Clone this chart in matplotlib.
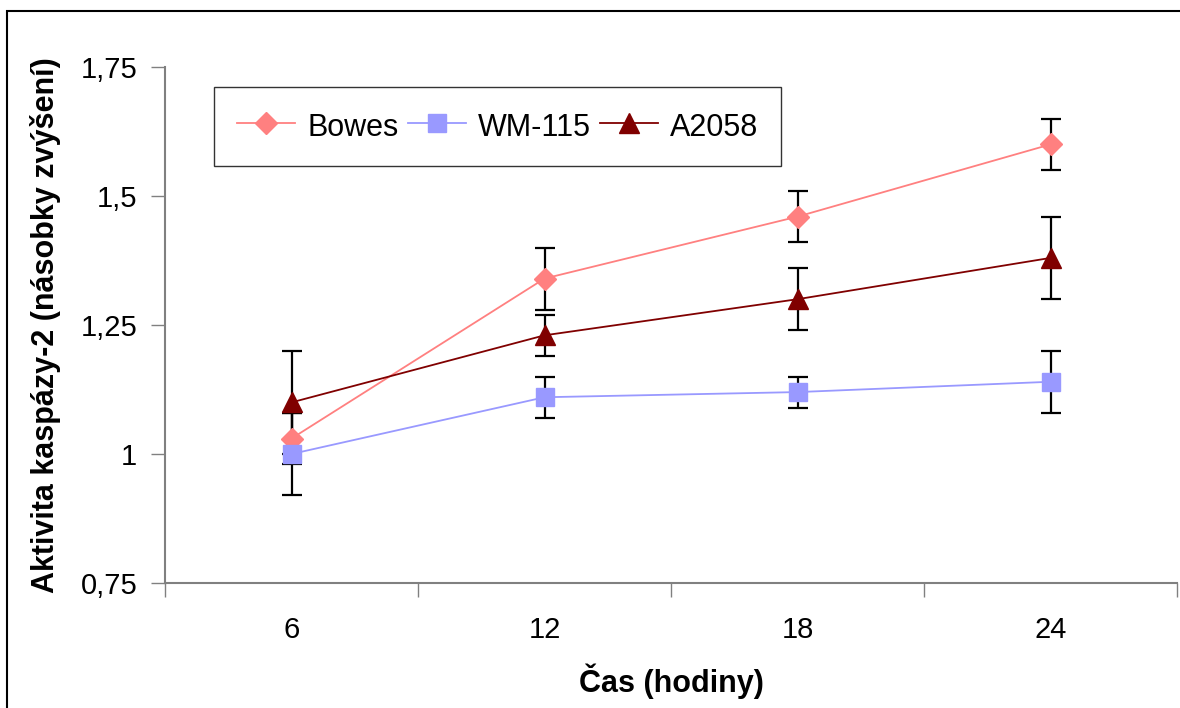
import matplotlib
matplotlib.use("Agg")
import matplotlib.pyplot as plt
from matplotlib.patches import Rectangle

categories = ["6", "12", "18", "24"]
bowes = [1.03, 1.34, 1.46, 1.60]
bowes_err = [0.05, 0.06, 0.05, 0.05]
wm115 = [1.00, 1.11, 1.12, 1.14]
wm115_err = [0.08, 0.04, 0.03, 0.06]
a2058 = [1.10, 1.23, 1.30, 1.38]
a2058_err = [0.10, 0.04, 0.06, 0.08]
yticks = [0.75, 1.0, 1.25, 1.5, 1.75]
ytick_labels = ["0,75", "1", "1,25", "1,5", "1,75"]

plt.rcParams['font.family'] = ['Liberation Sans', 'DejaVu Sans']

W, H = 1180, 708
fig = plt.figure(figsize=(W / 100, H / 100), dpi=100)
fig.patches.append(Rectangle((7 / W, -0.1), 1.2, (H - 11) / H + 0.1,
                             transform=fig.transFigure, fill=False,
                             edgecolor='black', linewidth=1.5))
ax = fig.add_axes([165 / W, (H - 583) / H, (1177 - 165) / W, (583 - 67) / H])

x = list(range(len(categories)))
series = [
    ("Bowes", bowes, bowes_err, "#FF8080", "D", 11),
    ("WM-115", wm115, wm115_err, "#9999FF", "s", 13),
    ("A2058", a2058, a2058_err, "#800000", "^", 15),
]
for name, vals, errs, col, mk, ms in series:
    ax.errorbar(x, vals, yerr=errs, fmt='none', ecolor='black', elinewidth=1.6,
                capsize=7, capthick=1.6, zorder=2)
for name, vals, errs, col, mk, ms in series:
    ax.plot(x, vals, color=col, linewidth=1.3, marker=mk, markersize=ms,
            markeredgecolor=col, markerfacecolor=col, label=name, zorder=3)

ax.set_xlim(-0.5, len(categories) - 0.5)
ax.set_ylim(0.75, 1.75)
ax.set_yticks(yticks)
ax.set_yticklabels(ytick_labels)
ax.set_xticks([i - 0.5 for i in range(len(categories) + 1)])
ax.set_xticklabels([])
ax.set_xticks(x, minor=True)
ax.set_xticklabels(categories, minor=True)
ax.tick_params(axis='x', which='major', direction='out', length=10, width=1, color='#808080')
ax.tick_params(axis='x', which='minor', length=0, pad=24, labelsize=21)
ax.tick_params(axis='y', direction='out', length=10, width=1, color='#808080', pad=10, labelsize=21)

for s in ['top', 'right']:
    ax.spines[s].set_visible(False)
for s in ['left', 'bottom']:
    ax.spines[s].set_color('#808080')
    ax.spines[s].set_linewidth(1.5)

ax.set_xlabel("Čas (hodiny)", fontsize=22, fontweight='bold', labelpad=14)
ax.set_ylabel("Aktivita kaspázy-2 (násobky zvýšení)", fontsize=22, fontweight='bold', labelpad=14)

leg = ax.legend(loc='upper left', bbox_to_anchor=((214 - 165) / (1177 - 165), (583 - 87) / (583 - 67)),
                ncol=3, fontsize=22, frameon=True, fancybox=False, edgecolor='black',
                handlelength=1.9, handleheight=1.2, columnspacing=0.3, handletextpad=0.4,
                borderpad=0.75, borderaxespad=0)
leg.get_frame().set_linewidth(1.0)

fig.savefig("out.png", dpi=100)
